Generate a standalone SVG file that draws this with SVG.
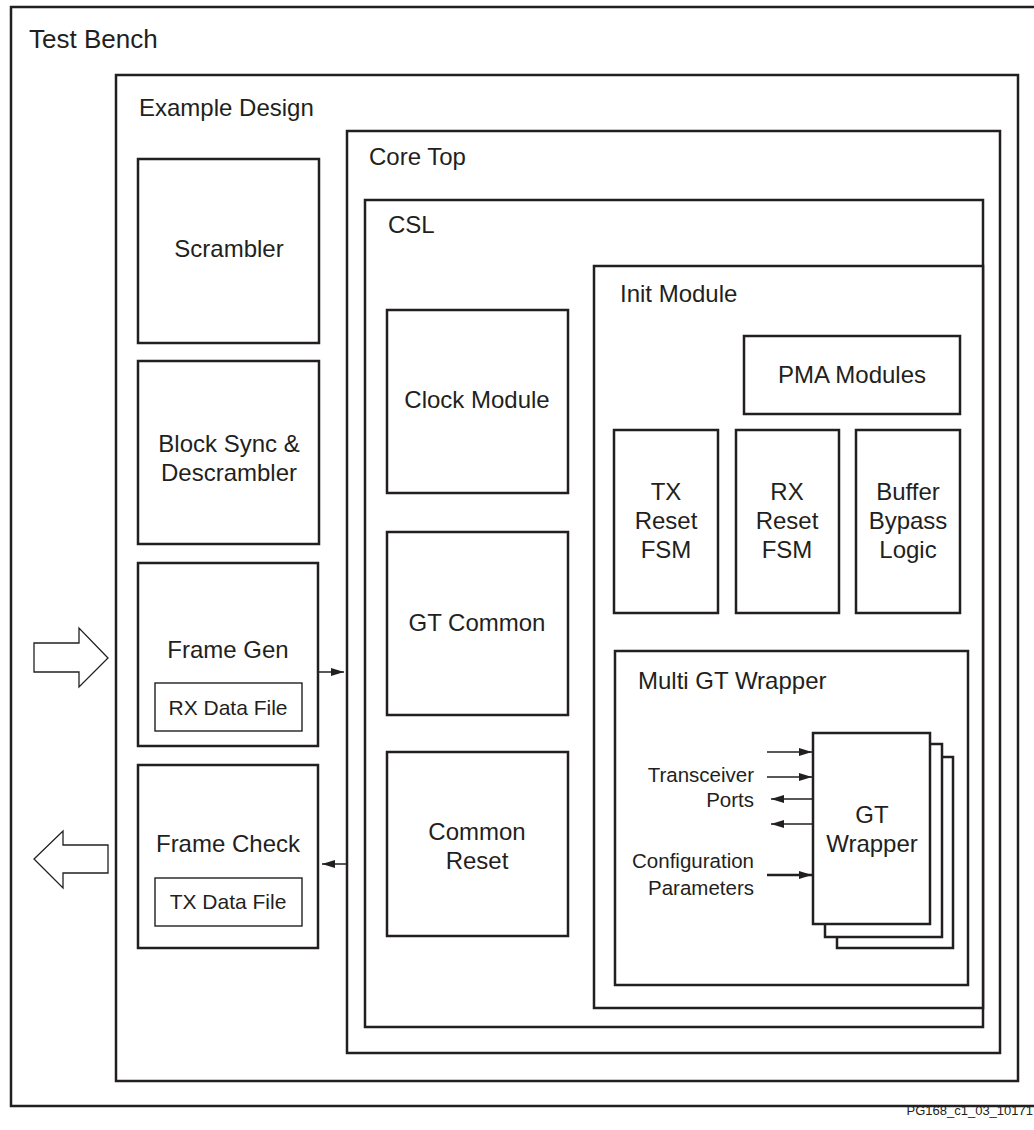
<svg xmlns="http://www.w3.org/2000/svg" width="1034" height="1130" viewBox="0 0 1034 1130">
<style>
.box{fill:#fff;stroke:#231f20;stroke-width:2.5}
.thin{fill:#fff;stroke:#231f20;stroke-width:1.4}
.hollow{fill:#fff;stroke:#231f20;stroke-width:1.3;stroke-linejoin:miter}
text{font-family:"Liberation Sans",Arial,sans-serif;fill:#231f20}
.t{font-size:24px}
.tc{font-size:24px;text-anchor:middle}
.s{font-size:21px;text-anchor:middle}
.p{font-size:20.5px;text-anchor:end}
.ln{stroke:#231f20;stroke-width:1.5;fill:none}
.lnb{stroke:#231f20;stroke-width:2.5;fill:none}
</style>
<defs>
<marker id="ah" markerUnits="userSpaceOnUse" markerWidth="14" markerHeight="10" refX="13" refY="4" orient="auto">
<path d="M0,0 L13,4 L0,8 Z" fill="#231f20"/>
</marker>
</defs>
<g id="test-bench">
<rect class="box" x="11" y="7" width="1040" height="1099"/>
<text x="29" y="48" style="font-size:26px">Test Bench</text>
</g>
<g id="example-design">
<rect class="box" x="116" y="75" width="902" height="1006"/>
<text class="t" x="139" y="116">Example Design</text>
</g>
<g id="core-top">
<rect class="box" x="347" y="131" width="653" height="922"/>
<text class="t" x="369" y="165">Core Top</text>
</g>
<g id="csl">
<rect class="box" x="365" y="200" width="618" height="827"/>
<text class="t" x="388" y="233">CSL</text>
</g>
<g id="scrambler">
<rect class="box" x="138" y="159" width="181" height="184"/>
<text class="tc" x="229" y="257">Scrambler</text>
</g>
<g id="block-sync">
<rect class="box" x="138" y="361" width="181" height="183"/>
<text class="tc" x="229" y="452">Block Sync &amp;</text>
<text class="tc" x="229" y="481">Descrambler</text>
</g>
<g id="frame-gen">
<rect class="box" x="138" y="563" width="180" height="183"/>
<text class="tc" x="228" y="658">Frame Gen</text>
</g>
<g id="rx-data-file">
<rect class="thin" x="155" y="683" width="147" height="48"/>
<text class="s" x="228" y="715">RX Data File</text>
</g>
<g id="frame-check">
<rect class="box" x="138" y="765" width="180" height="183"/>
<text class="tc" x="228" y="852">Frame Check</text>
</g>
<g id="tx-data-file">
<rect class="thin" x="155" y="878" width="147" height="48"/>
<text class="s" x="228" y="909">TX Data File</text>
</g>
<g id="clock-module">
<rect class="box" x="387" y="310" width="181" height="183"/>
<text class="tc" x="477" y="408">Clock Module</text>
</g>
<g id="gt-common">
<rect class="box" x="387" y="532" width="181" height="183"/>
<text class="tc" x="477" y="631">GT Common</text>
</g>
<g id="common-reset">
<rect class="box" x="387" y="752" width="181" height="184"/>
<text class="tc" x="477" y="840">Common</text>
<text class="tc" x="477" y="869">Reset</text>
</g>
<g id="init-module">
<rect class="box" x="594" y="266" width="389" height="742"/>
<text class="t" x="620" y="302">Init Module</text>
</g>
<g id="pma-modules">
<rect class="box" x="744" y="336" width="216" height="78"/>
<text class="tc" x="852" y="383">PMA Modules</text>
</g>
<g id="tx-reset-fsm">
<rect class="box" x="614" y="430" width="104" height="183"/>
<text class="tc" x="666" y="500">TX</text>
<text class="tc" x="666" y="529">Reset</text>
<text class="tc" x="666" y="558">FSM</text>
</g>
<g id="rx-reset-fsm">
<rect class="box" x="736" y="430" width="103" height="183"/>
<text class="tc" x="787" y="500">RX</text>
<text class="tc" x="787" y="529">Reset</text>
<text class="tc" x="787" y="558">FSM</text>
</g>
<g id="buffer-bypass-logic">
<rect class="box" x="856" y="430" width="104" height="183"/>
<text class="tc" x="908" y="500">Buffer</text>
<text class="tc" x="908" y="529">Bypass</text>
<text class="tc" x="908" y="558">Logic</text>
</g>
<g id="multi-gt-wrapper">
<rect class="box" x="615" y="651" width="353" height="334"/>
<text class="t" x="638" y="689">Multi GT Wrapper</text>
</g>
<g id="gt-wrapper">
<rect class="box" x="837" y="757" width="116" height="191"/>
<rect class="box" x="825" y="744" width="117" height="193"/>
<rect class="box" x="813" y="733" width="117" height="191"/>
<text class="tc" x="872" y="823">GT</text>
<text class="tc" x="872" y="852">Wrapper</text>
</g>
<g id="port-labels">
<text class="p" x="754" y="782">Transceiver</text>
<text class="p" x="754" y="807">Ports</text>
<text class="p" x="754" y="868">Configuration</text>
<text class="p" x="754" y="895">Parameters</text>
</g>
<g id="connectors">
<path class="hollow" d="M34,643 L79,643 L79,628 L108,658 L79,687 L79,672 L34,672 Z"/>
<path class="hollow" d="M108,845 L63,845 L63,831 L34,859 L63,888 L63,873 L108,873 Z"/>
<line class="ln" x1="319" y1="672" x2="344" y2="672" marker-end="url(#ah)"/>
<line class="ln" x1="347" y1="864" x2="322" y2="864" marker-end="url(#ah)"/>
<line class="ln" x1="767" y1="752" x2="812" y2="752" marker-end="url(#ah)"/>
<line class="ln" x1="767" y1="777" x2="812" y2="777" marker-end="url(#ah)"/>
<line class="ln" x1="813" y1="799" x2="771" y2="799" marker-end="url(#ah)"/>
<line class="ln" x1="813" y1="824" x2="771" y2="824" marker-end="url(#ah)"/>
<line class="lnb" x1="767" y1="875" x2="812" y2="875" marker-end="url(#ah)"/>
</g>
<text x="1033" y="1115" style="font-size:13px;text-anchor:end">PG168_c1_03_10171</text>
</svg>
